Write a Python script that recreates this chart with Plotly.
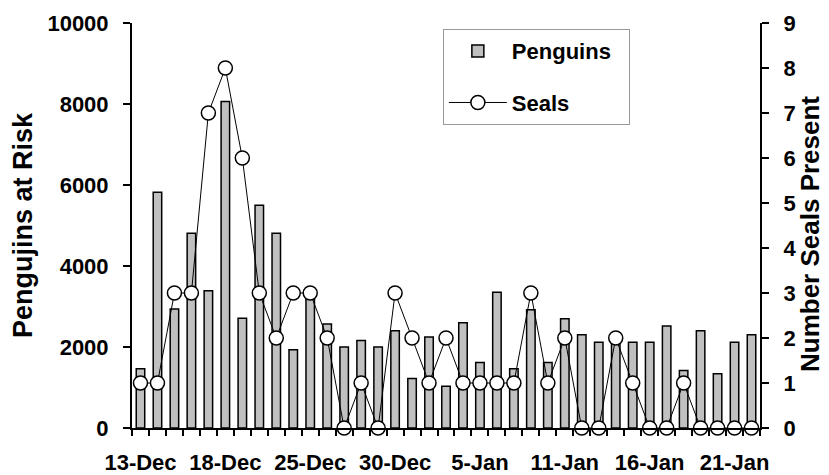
import plotly.graph_objects as go

days = list(range(1, 38))
penguins = [1460, 5820, 2940, 4810, 3390, 8060, 2710, 5500, 4810, 1930,
            3300, 2570, 2000, 2160, 2000, 2400, 1220, 2250, 1030, 2600,
            1620, 3350, 1460, 2920, 1620, 2700, 2300, 2120, 2250, 2120,
            2120, 2520, 1420, 2400, 1340, 2120, 2300]
seals = [1, 1, 3, 3, 7, 8, 6, 3, 2, 3, 3, 2, 0, 1, 0, 3, 2, 1, 2, 1,
         1, 1, 1, 3, 1, 2, 0, 0, 2, 1, 0, 0, 1, 0, 0, 0, 0]
label_pos = [1, 6, 11, 16, 21, 26, 31, 36]
label_text = ["13-Dec", "18-Dec", "25-Dec", "30-Dec", "5-Jan", "11-Jan", "16-Jan", "21-Jan"]

FONT = "Liberation Sans, Arial, sans-serif"

fig = go.Figure()
fig.add_trace(go.Bar(
    x=days, y=penguins, name="<b>Penguins</b>&nbsp;&nbsp;", width=0.5,
    marker=dict(color="#c0c0c0", line=dict(color="black", width=1.5)),
    legendgroup="a",
))
fig.add_trace(go.Scatter(
    x=days, y=seals, name="<b>Seals</b>", yaxis="y2", mode="lines+markers",
    line=dict(color="black", width=1),
    marker=dict(symbol="circle", size=14, color="white", line=dict(color="black", width=1.5)),
    cliponaxis=False, legendgroup="b",
))

# page body has an 8px margin, so the figure is sized to fit the 829x475 window
fig.update_layout(
    width=821, height=467,
    margin=dict(l=124, r=69, t=15, b=47, autoexpand=False),
    paper_bgcolor="white", plot_bgcolor="white",
    font=dict(family=FONT, color="black", size=22),
    showlegend=True,
    legend=dict(
        x=0.495, y=0.985, xanchor="left", yanchor="top",
        bordercolor="#999999", borderwidth=1, bgcolor="white",
        font=dict(size=22, family=FONT, color="black"),
        tracegroupgap=20, itemwidth=58,
    ),
    xaxis=dict(
        range=[0.5, 37.5], tickmode="array", tickvals=label_pos,
        ticktext=["<b>%s</b>" % t for t in label_text],
        ticks="", showline=True, linecolor="black", linewidth=2,
        showgrid=False, zeroline=False, ticklabelstandoff=14, automargin=False,
        tickfont=dict(size=22, family=FONT),
        minor=dict(tickmode="array", tickvals=[d + 0.5 for d in range(0, 38)],
                   ticks="outside", ticklen=6, tickwidth=2, tickcolor="black"),
    ),
    yaxis=dict(
        range=[0, 10000], tickmode="array", tickvals=[0, 2000, 4000, 6000, 8000, 10000],
        ticktext=["<b>%d</b>" % v for v in [0, 2000, 4000, 6000, 8000, 10000]],
        ticks="outside", ticklen=7, tickwidth=2, tickcolor="black",
        showline=True, linecolor="black", linewidth=2, showgrid=False, zeroline=False,
        ticklabelstandoff=10, automargin=False, tickfont=dict(size=22, family=FONT),
        title=dict(text="<b>Pengujins at Risk</b>", font=dict(size=27, family=FONT), standoff=14),
    ),
    yaxis2=dict(
        overlaying="y", side="right", range=[0, 9], tickmode="array",
        tickvals=list(range(10)), ticktext=["<b>%d</b>" % v for v in range(10)],
        ticks="outside", ticklen=7, tickwidth=2, tickcolor="black",
        showline=True, linecolor="black", linewidth=2, showgrid=False, zeroline=False,
        ticklabelstandoff=10, automargin=False, tickfont=dict(size=22, family=FONT),
    ),
    annotations=[dict(
        text="<b>Number Seals Present</b>", textangle=-90, showarrow=False,
        xref="paper", yref="paper", x=1.0796, y=0.479, xanchor="center", yanchor="middle",
        font=dict(size=26, family=FONT, color="black"),
    )],
)

fig.write_html("out.html")
